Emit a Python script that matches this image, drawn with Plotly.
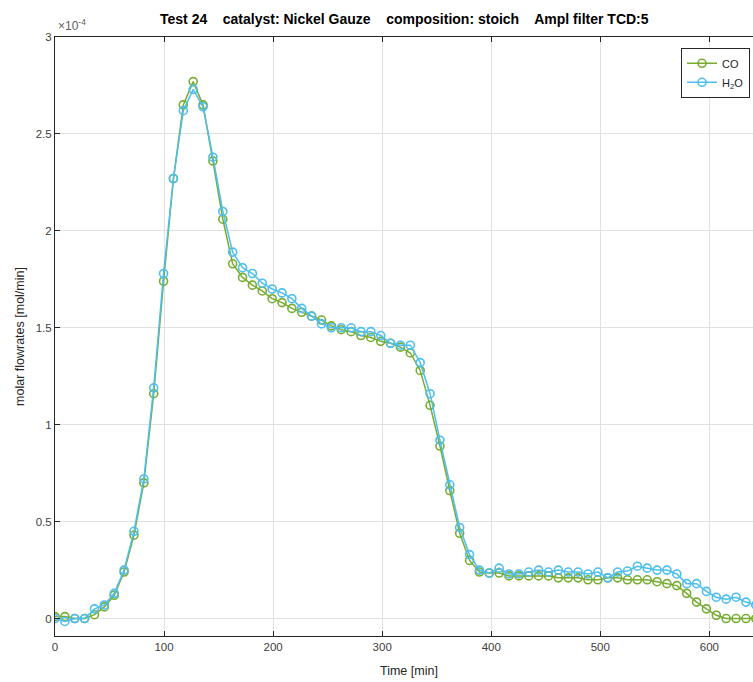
import plotly.graph_objects as go

# sampling times [min]
time_min = [0.0, 9.05, 18.1, 27.15, 36.2, 45.25, 54.3, 63.35, 72.4, 81.45,
            90.5, 99.55, 108.6, 117.65, 126.7, 135.75, 144.8, 153.85, 162.9, 171.95,
            181.0, 190.05, 199.1, 208.15, 217.2, 226.25, 235.3, 244.35, 253.4, 262.45,
            271.5, 280.55, 289.6, 298.65, 307.7, 316.75, 325.8, 334.85, 343.9, 352.95,
            362.0, 371.05, 380.1, 389.15, 398.2, 407.25, 416.3, 425.35, 434.4, 443.45,
            452.5, 461.55, 470.6, 479.65, 488.7, 497.75, 506.8, 515.85, 524.9, 533.95,
            543.0, 552.05, 561.1, 570.15, 579.2, 588.25, 597.3, 606.35, 615.4, 624.45,
            633.5, 642.55]

# molar flowrates in units of 1e-4 mol/min
co = [0.01, 0.01, 0.00, 0.00, 0.02, 0.06, 0.12, 0.24, 0.43, 0.70,
      1.16, 1.74, 2.27, 2.65, 2.77, 2.65, 2.36, 2.06, 1.83, 1.76,
      1.72, 1.69, 1.65, 1.63, 1.60, 1.58, 1.56, 1.54, 1.51, 1.49,
      1.48, 1.46, 1.45, 1.43, 1.42, 1.40, 1.37, 1.28, 1.10, 0.89,
      0.66, 0.44, 0.30, 0.24, 0.235, 0.235, 0.22, 0.22, 0.22, 0.22,
      0.22, 0.21, 0.21, 0.21, 0.20, 0.20, 0.21, 0.21, 0.20, 0.20,
      0.20, 0.19, 0.18, 0.17, 0.13, 0.085, 0.05, 0.017, 0.00, 0.00,
      0.00, 0.00]

h2o = [0.00, -0.015, 0.00, 0.00, 0.05, 0.07, 0.13, 0.25, 0.45, 0.72,
       1.19, 1.78, 2.27, 2.62, 2.73, 2.64, 2.38, 2.10, 1.89, 1.81,
       1.78, 1.73, 1.70, 1.68, 1.65, 1.60, 1.56, 1.52, 1.50, 1.50,
       1.50, 1.48, 1.48, 1.46, 1.42, 1.41, 1.41, 1.32, 1.16, 0.92,
       0.69, 0.47, 0.33, 0.25, 0.235, 0.26, 0.23, 0.23, 0.24, 0.25,
       0.24, 0.25, 0.24, 0.24, 0.23, 0.24, 0.21, 0.24, 0.245, 0.27,
       0.26, 0.25, 0.25, 0.23, 0.18, 0.18, 0.14, 0.11, 0.10, 0.11,
       0.085, 0.07]

x_ticks = [0, 100, 200, 300, 400, 500, 600]
y_ticks = [0, 0.5, 1, 1.5, 2, 2.5, 3]
y_tick_labels = ["0", "0.5", "1", "1.5", "2", "2.5", "3"]

title_text = "Test 24    catalyst: Nickel Gauze    composition: stoich    Ampl filter TCD:5"

GREEN = "#77AC30"
BLUE = "#4DBEEE"
AX = "#262626"
FONT = "Liberation Sans, Arial, Helvetica, sans-serif"

fig = go.Figure()
fig.add_trace(go.Scatter(
    x=time_min, y=co, name="CO", mode="lines+markers",
    line=dict(color=GREEN, width=1.5),
    marker=dict(symbol="circle-open", size=8, color=GREEN, line=dict(width=1.6)),
))
fig.add_trace(go.Scatter(
    x=time_min, y=h2o, name="H<sub>2</sub>O", mode="lines+markers",
    line=dict(color=BLUE, width=1.5),
    marker=dict(symbol="circle-open", size=8, color=BLUE, line=dict(width=1.6)),
))

axis_common = dict(
    showline=True, linecolor=AX, linewidth=1,
    ticks="inside", ticklen=5, tickcolor=AX, tickwidth=1,
    showgrid=True, gridcolor="#e0e0e0", gridwidth=1,
    zeroline=False,
    tickfont=dict(family=FONT, size=11.5, color="#404040"),
)

fig.update_layout(
    width=753, height=682,
    margin=dict(l=55, r=0, t=37, b=46),
    paper_bgcolor="white", plot_bgcolor="white",
    font=dict(family=FONT, size=11, color=AX),
    showlegend=True,
    legend=dict(
        x=0.9957, y=0.982, xanchor="right", yanchor="top",
        bgcolor="white", bordercolor=AX, borderwidth=1,
        font=dict(family=FONT, size=11, color=AX),
        itemwidth=30, tracegroupgap=0,
    ),
    xaxis=dict(range=[0, 640], tickvals=x_ticks, mirror="ticks", **axis_common),
    yaxis=dict(range=[-0.09, 3.0], tickvals=y_ticks, ticktext=y_tick_labels,
               mirror=False,
               title=dict(text="molar flowrates [mol/min]", standoff=8,
                          font=dict(family=FONT, size=12.5, color=AX)),
               **axis_common),
    annotations=[
        dict(text="<b>" + title_text + "</b>", xref="paper", yref="paper",
             x=(404 - 55) / 698, y=1.0, xanchor="center", yanchor="bottom", yshift=8,
             showarrow=False, font=dict(family=FONT, size=14, color="#000000")),
        dict(text="Time [min]", xref="paper", yref="paper",
             x=(409 - 55) / 698, y=0, xanchor="center", yanchor="top", yshift=-26,
             showarrow=False, font=dict(family=FONT, size=12.5, color=AX)),
        dict(text="×10<sup>-4</sup>", xref="paper", yref="paper",
             x=0, y=1.0, xanchor="left", yanchor="bottom", xshift=1, yshift=2,
             showarrow=False, font=dict(family=FONT, size=12, color="#606060")),
    ],
)

fig.write_html("out.html")
